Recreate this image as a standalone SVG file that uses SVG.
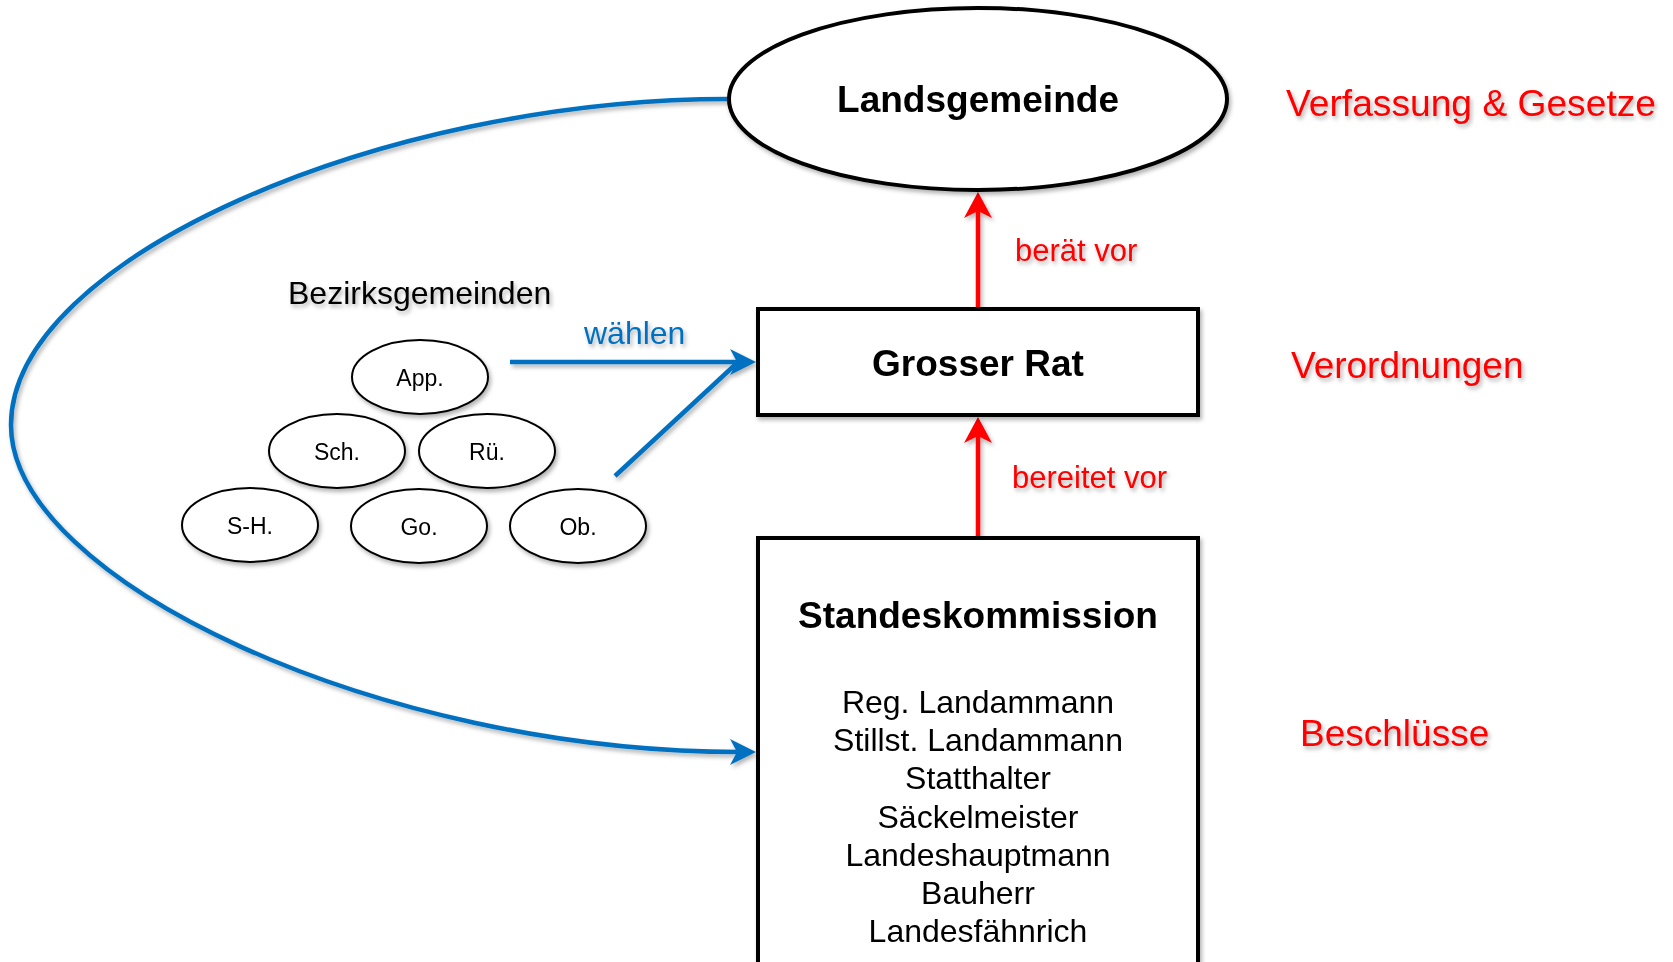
<svg xmlns="http://www.w3.org/2000/svg" width="1673" height="962" viewBox="0 0 1673 962">
  <defs>
    <filter id="sh" x="-10%" y="-10%" width="120%" height="130%">
      <feDropShadow dx="2" dy="3" stdDeviation="2" flood-color="#000" flood-opacity="0.3"/>
    </filter>
    <marker id="arrBlue" markerUnits="userSpaceOnUse" markerWidth="28" markerHeight="26" refX="10" refY="13" orient="auto">
      <path d="M0,0 L26,13 L0,26 L7,13 z" fill="#0070C0"/>
    </marker>
    <marker id="arrRed" markerUnits="userSpaceOnUse" markerWidth="28" markerHeight="28" refX="10" refY="14" orient="auto">
      <path d="M0,0 L26,14 L0,28 L7,14 z" fill="#FF0000"/>
    </marker>
    <style>
      text { font-family: "Liberation Sans", Arial, Helvetica, sans-serif; }
      .node { fill: #fff; stroke: #000; }
      .big { stroke-width: 4; }
      .small { stroke-width: 2; }
      .title { font-weight: bold; font-size: 37px; fill: #000; text-anchor: middle; }
      .member { font-size: 32px; fill: #000; text-anchor: middle; }
      .dist { font-size: 23px; fill: #000; text-anchor: middle; }
      .red { font-size: 37px; fill: #FF0000; }
      .redlbl { font-size: 31px; fill: #FF0000; }
      .blue { stroke: #0070C0; stroke-width: 4.5; fill: none; }
      .redline { stroke: #FF0000; stroke-width: 4.5; fill: none; }
    </style>
  </defs>
  <rect width="1673" height="962" fill="#fff"/>

  <g id="connectors" filter="url(#sh)">
    <path class="blue" d="M729,99 C380,99 11,260 11,425 C11,580 380,752 740,752" marker-end="url(#arrBlue)"/>
    <line class="blue" x1="510" y1="362" x2="740" y2="362" marker-end="url(#arrBlue)"/>
    <line class="blue" x1="615" y1="476" x2="737" y2="363"/>
    <line class="redline" x1="978" y1="308" x2="978" y2="208" marker-end="url(#arrRed)"/>
    <line class="redline" x1="978" y1="537" x2="978" y2="433" marker-end="url(#arrRed)"/>
    <text class="redlbl" x="1015" y="261">berät vor</text>
    <text class="redlbl" x="1012" y="488">bereitet vor</text>
    <text x="584" y="344" font-size="32" fill="#0070C0">wählen</text>
  </g>

  <g id="landsgemeinde" filter="url(#sh)">
    <ellipse class="node big" cx="978" cy="99" rx="249" ry="91"/>
    <text class="title" x="978" y="112" textLength="282" lengthAdjust="spacingAndGlyphs">Landsgemeinde</text>
  </g>

  <g id="grosser-rat" filter="url(#sh)">
    <rect class="node big" x="758" y="309" width="440" height="106"/>
    <text class="title" x="978" y="376">Grosser Rat</text>
  </g>

  <g id="standeskommission" filter="url(#sh)">
    <rect class="node big" x="758" y="538" width="440" height="440"/>
    <text class="title" x="978" y="628">Standeskommission</text>
    <text class="member" x="978" y="713">Reg. Landammann</text>
    <text class="member" x="978" y="751">Stillst. Landammann</text>
    <text class="member" x="978" y="789">Statthalter</text>
    <text class="member" x="978" y="828">Säckelmeister</text>
    <text class="member" x="978" y="866">Landeshauptmann</text>
    <text class="member" x="978" y="904">Bauherr</text>
    <text class="member" x="978" y="942">Landesfähnrich</text>
  </g>

  <g id="bezirksgemeinden" filter="url(#sh)">
    <text x="288" y="304" font-size="32" fill="#000">Bezirksgemeinden</text>
    <g id="app">
      <ellipse class="node small" cx="420" cy="377" rx="68" ry="37"/>
      <text class="dist" x="420" y="386">App.</text>
    </g>
    <g id="sch">
      <ellipse class="node small" cx="337" cy="451" rx="68" ry="37"/>
      <text class="dist" x="337" y="460">Sch.</text>
    </g>
    <g id="rue">
      <ellipse class="node small" cx="487" cy="451" rx="68" ry="37"/>
      <text class="dist" x="487" y="460">Rü.</text>
    </g>
    <g id="sh-node">
      <ellipse class="node small" cx="250" cy="525" rx="68" ry="37"/>
      <text class="dist" x="250" y="534">S-H.</text>
    </g>
    <g id="go">
      <ellipse class="node small" cx="419" cy="526" rx="68" ry="37"/>
      <text class="dist" x="419" y="535">Go.</text>
    </g>
    <g id="ob">
      <ellipse class="node small" cx="578" cy="526" rx="68" ry="37"/>
      <text class="dist" x="578" y="535">Ob.</text>
    </g>
  </g>

  <g id="levels" filter="url(#sh)">
    <text class="red" x="1286" y="116" textLength="370" lengthAdjust="spacingAndGlyphs">Verfassung &amp; Gesetze</text>
    <text class="red" x="1291" y="378">Verordnungen</text>
    <text class="red" x="1300" y="746">Beschlüsse</text>
  </g>
</svg>
